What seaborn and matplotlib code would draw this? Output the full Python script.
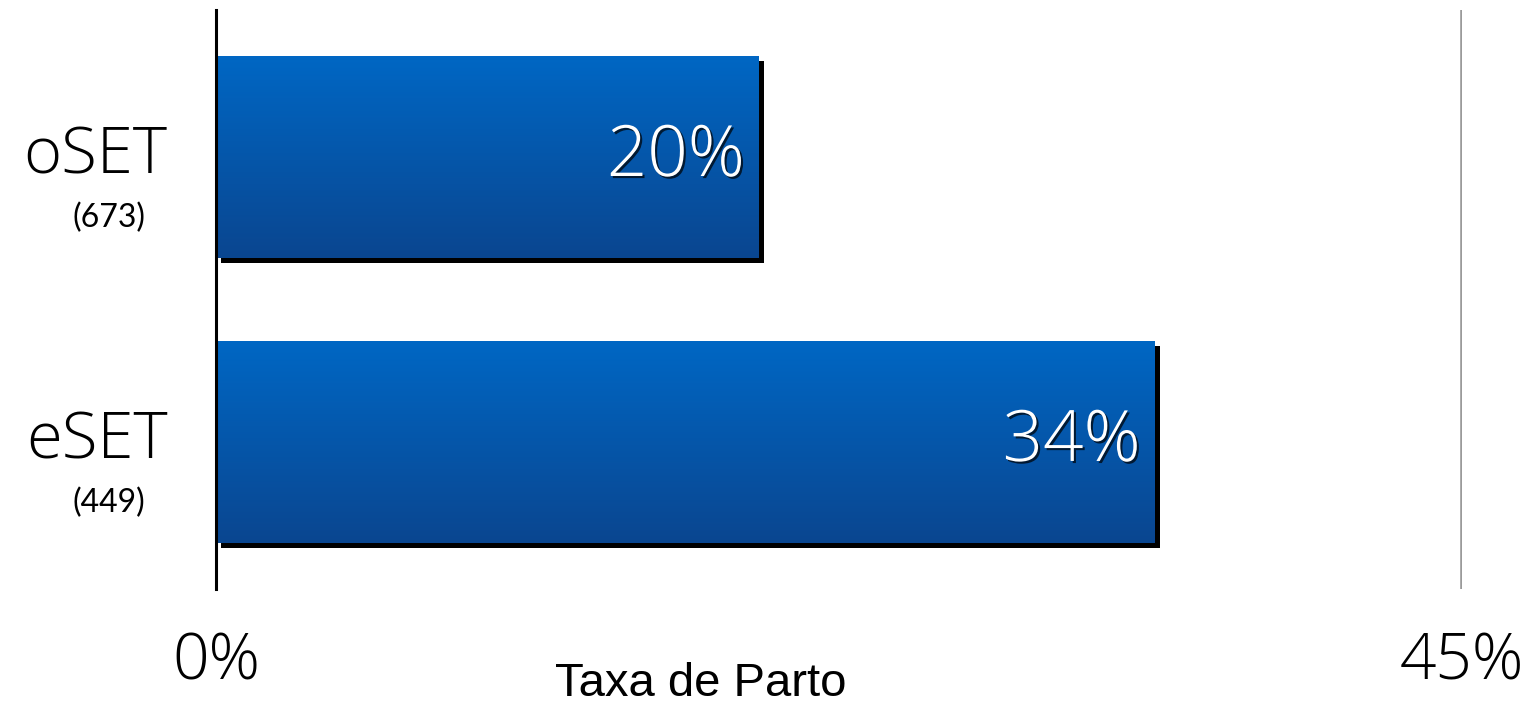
import numpy as np
import pandas as pd
import seaborn as sns
import matplotlib.pyplot as plt
import matplotlib.patheffects as pe
from matplotlib.colors import LinearSegmentedColormap
from matplotlib.transforms import blended_transform_factory

grupos = ['oSET', 'eSET']
contagens = ['(673)', '(449)']
taxas = [19.6, 33.9]
xticks = [0, 45]
xticklabels = ['0%', '45%']

df = pd.DataFrame({'grupo': grupos, 'taxa': taxas})

sns.set_style('white')
plt.rcParams['font.family'] = ['Open Sans', 'DejaVu Sans']
plt.rcParams['text.color'] = 'black'
plt.rcParams['xtick.color'] = 'black'
plt.rcParams['ytick.color'] = 'black'
plt.rcParams['axes.labelcolor'] = 'black'

fig = plt.figure(figsize=(15.32, 7.07), dpi=100)
ax = fig.add_axes([0.141, 0.1669, 0.8133, 0.819])

sns.barplot(data=df, x='taxa', y='grupo', orient='h', width=0.709,
            color='#0558ad', linewidth=0, ax=ax, zorder=2)

# gradient fill + drop shadow on each bar
cmap = LinearSegmentedColormap.from_list('azul', ['#0067c4', '#0a4690'])
grad = np.linspace(0, 1, 256).reshape(-1, 1)
for p in ax.patches:
    p.set_linewidth(0)
    p.set_path_effects([pe.SimplePatchShadow(offset=(3.8, -3.8), shadow_rgbFace='black', alpha=1.0),
                        pe.Normal()])
    x0, y0 = p.get_x(), p.get_y()
    w, h = p.get_width(), p.get_height()
    im = ax.imshow(grad, cmap=cmap, aspect='auto', extent=(x0, x0 + w, y0 + h, y0),
                   zorder=3, interpolation='bicubic')
    im.set_clip_path(p)

ax.set_xlim(0, 45)
ax.set_ylim(1.516, -0.516)

ax.axvline(45, color='#9a9a9a', lw=2.6, zorder=1)

big = dict(family=['Open Sans', 'Roboto', 'DejaVu Sans'], fontweight='light')

for i, v in enumerate(taxas):
    ax.text(v - 0.5, i, f'{v:.0f}%', ha='right', va='center', color='white',
            fontsize=51, zorder=5, **big,
            path_effects=[pe.SimplePatchShadow(offset=(1.5, -1.5), shadow_rgbFace='black', alpha=0.7),
                          pe.Normal()])

trans = blended_transform_factory(ax.transAxes, ax.transData)
for i, c in enumerate(contagens):
    ax.text(-0.0859, i + 0.214, c, ha='center', va='center', fontsize=23,
            family=['Lato', 'DejaVu Sans'], transform=trans)

ax.set_xticks(xticks)
ax.set_xticklabels(xticklabels, fontsize=46, **big)
ax.set_yticks(range(len(grupos)))
ax.set_yticklabels(grupos, fontsize=47, **big)
ax.tick_params(axis='x', length=0, pad=30)
ax.tick_params(axis='y', length=0, pad=35)
for lab in ax.get_yticklabels():
    lab.set_va('center')

ax.set_ylabel('')
ax.set_xlabel('Taxa de Parto', fontsize=34, family=['Liberation Sans', 'DejaVu Sans'], va='top')
ax.xaxis.set_label_coords((701 - 216) / 1246, -0.126)

for s in ['top', 'right', 'bottom']:
    ax.spines[s].set_visible(False)
ax.spines['left'].set_color('black')
ax.spines['left'].set_linewidth(2.2)
ax.spines['left'].set_zorder(6)

fig.savefig('out.png', dpi=100)
